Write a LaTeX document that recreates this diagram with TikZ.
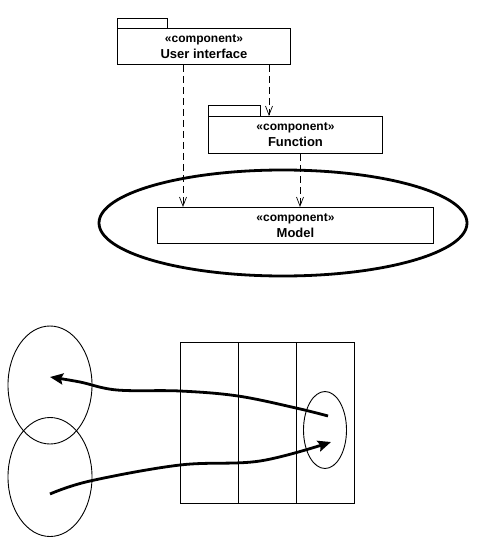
\documentclass[tikz,border=0pt]{standalone}
\usepackage{fontspec}
\setmainfont{Liberation Sans}
\usetikzlibrary{arrows.meta,shapes.geometric}
\begin{document}
\begin{tikzpicture}[x=1pt,y=-1pt,
  comp/.style={draw, line width=0.9pt, rectangle, anchor=north west, inner sep=0pt,
    align=center, font=\bfseries\fontsize{13}{17}\selectfont},
  stereo/.style={},
  tabbox/.style={draw, line width=0.9pt},
  dep/.style={line width=0.6pt, dash pattern=on 7pt off 4pt,
    -{Straight Barb[length=9pt,width=7pt,line width=0.7pt]}},
  thin/.style={line width=0.9pt},
  blob/.style={draw, ellipse, line width=0.9pt, inner sep=0pt},
  flow/.style={line width=2.8pt, -{Stealth[length=13pt,width=11pt,inset=2pt]}}
]
\useasboundingbox (0,0) rectangle (486,553);

% top: component diagram
\draw[line width=2.8pt] (283,223) ellipse [x radius=184, y radius=53];

\draw[tabbox] (117,18) rectangle (167,28);
\node[comp, minimum width=173pt, minimum height=36pt] (ui) at (117,28)
  {{\fontsize{12}{14}\selectfont «component»}\\[-1pt]User interface};

\draw[tabbox] (208,105) rectangle (260,116);
\node[comp, minimum width=174pt, minimum height=37pt] (fn) at (208,116)
  {{\fontsize{12}{14}\selectfont «component»}\\[-1pt]Function};

\node[comp, minimum width=276pt, minimum height=36pt] (model) at (157,207)
  {{\fontsize{12}{14}\selectfont «component»}\\[-1pt]Model};

\draw[dep] (ui.south -| 183,0) -- (model.north -| 183,0);
\draw[dep] (ui.south -| 269,0) -- (fn.north -| 269,0);
\draw[dep] (fn.south -| 300,0) -- (model.north -| 300,0);

% bottom: sketch
\node[blob, minimum width=84pt, minimum height=118pt] (e1) at (50,385) {};
\node[blob, minimum width=84pt, minimum height=119pt] (e2) at (50,477) {};
\node[draw, thin, rectangle, anchor=north west, inner sep=0pt,
      minimum width=174pt, minimum height=161pt] (bar) at (180,342) {};
\draw[thin] (bar.north -| 238,0) -- (bar.south -| 238,0);
\draw[thin] (bar.north -| 296,0) -- (bar.south -| 296,0);
\node[blob, minimum width=43pt, minimum height=77pt] (e3) at (325,430) {};

\coordinate (s1) at (328,416);
\coordinate (t1) at (50,377);
\coordinate (s2) at (50,494);
\coordinate (t2) at (331,442);

\draw[flow] plot[smooth, tension=0.6] coordinates
  {(s1) (296,408) (238,396) (180,391) (117,390) (80,382) (t1)};
\draw[flow] plot[smooth, tension=0.6] coordinates
  {(s2) (90,481) (180,465) (260,461) (t2)};
\end{tikzpicture}
\end{document}
